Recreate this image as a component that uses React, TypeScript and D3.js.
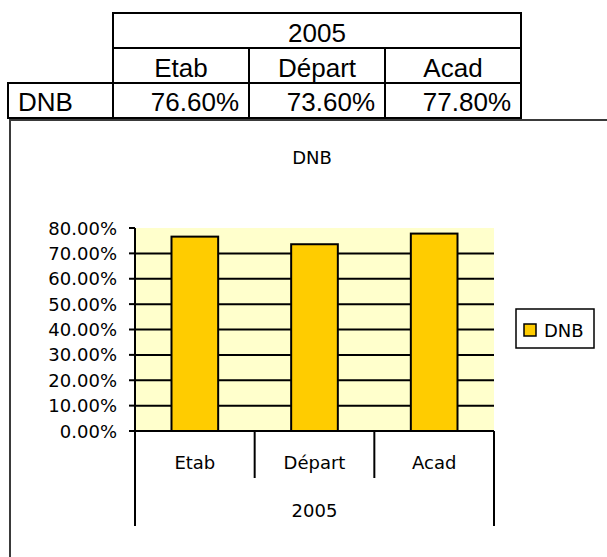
import React from "react";
import * as d3 from "d3";

// données
const categories = ["Etab", "Départ", "Acad"];
const groupLabel = "2005";
const seriesName = "DNB";
const values = [0.766, 0.736, 0.778];
const yTickValues = [0, 0.1, 0.2, 0.3, 0.4, 0.5, 0.6, 0.7, 0.8];

const W = 607;
const H = 557;
const chartFont = "'DejaVu Sans', Verdana, sans-serif";
const tableFont = "'Liberation Sans', Arial, sans-serif";

const App = () => {
    // tableau
    const tableCol = d3.scaleBand().domain(categories).range([113, 521]);
    const rowY = [13, 48, 83, 118];
    const tableLeft = 8;

    // graphique
    const plot = { left: 135, right: 494, top: 228, bottom: 431 };
    const x0 = d3.scaleBand().domain(categories).range([plot.left, plot.right]);
    const xBar = d3
        .scaleBand()
        .domain(categories)
        .range([plot.left, plot.right])
        .paddingInner(0.61)
        .paddingOuter(0.305);
    const y = d3.scaleLinear().domain([0, 0.8]).range([plot.bottom, plot.top]);
    const fmt = d3.format(".2%");
    const pctTable = d3.format(".2%");

    return (
        <div style={{ position: "fixed", left: 0, top: 0 }}>
            <svg width={W} height={H} style={{ display: "block" }}>
                <rect x={0} y={0} width={W} height={H} fill="#fff" />

                {/* tableau */}
                <g fontFamily={tableFont} fontSize={26} fill="#000">
                    {/* ligne 2005 */}
                    <rect x={113} y={rowY[0]} width={521 - 113} height={rowY[1] - rowY[0]} fill="none" stroke="#000" strokeWidth={2} />
                    <text x={(113 + 521) / 2} y={rowY[0] + 29} textAnchor="middle">{groupLabel}</text>
                    {/* ligne catégories */}
                    {categories.map((c) => (
                        <g key={c}>
                            <rect x={tableCol(c)} y={rowY[1]} width={tableCol.bandwidth()} height={rowY[2] - rowY[1]} fill="none" stroke="#000" strokeWidth={2} />
                            <text x={tableCol(c)! + tableCol.bandwidth() / 2} y={rowY[1] + 29} textAnchor="middle">{c}</text>
                        </g>
                    ))}
                    {/* ligne DNB */}
                    <rect x={tableLeft} y={rowY[2]} width={113 - tableLeft} height={rowY[3] - rowY[2]} fill="none" stroke="#000" strokeWidth={2} />
                    <text x={tableLeft + 10} y={rowY[2] + 28}>{seriesName}</text>
                    {categories.map((c, i) => (
                        <g key={c}>
                            <rect x={tableCol(c)} y={rowY[2]} width={tableCol.bandwidth()} height={rowY[3] - rowY[2]} fill="none" stroke="#000" strokeWidth={2} />
                            <text x={tableCol(c)! + tableCol.bandwidth() - 10} y={rowY[2] + 28} textAnchor="end">{pctTable(values[i])}</text>
                        </g>
                    ))}
                </g>

                {/* cadre du graphique */}
                <line x1={9} x2={W} y1={120} y2={120} stroke="#3a3a3a" strokeWidth={2} />
                <line x1={10} x2={10} y1={120} y2={H} stroke="#3a3a3a" strokeWidth={2} />

                <g fontFamily={chartFont} fontSize={18} fill="#000">
                    {/* titre */}
                    <text x={312} y={157} textAnchor="middle" dominantBaseline="central">{seriesName}</text>

                    {/* zone de traçage */}
                    <rect x={plot.left} y={plot.top} width={plot.right - plot.left} height={plot.bottom - plot.top} fill="#FFFFCC" />

                    {/* grille */}
                    {yTickValues.filter((t) => t > 0 && t < 0.8).map((t) => (
                        <line key={t} x1={plot.left} x2={plot.right} y1={y(t)} y2={y(t)} stroke="#000" strokeWidth={2} />
                    ))}

                    {/* barres */}
                    {categories.map((c, i) => (
                        <rect
                            key={c}
                            x={xBar(c)}
                            y={y(values[i])}
                            width={xBar.bandwidth()}
                            height={y(0) - y(values[i])}
                            fill="#FFCC00"
                            stroke="#000"
                            strokeWidth={2}
                        />
                    ))}

                    {/* axe Y */}
                    <line x1={plot.left} x2={plot.left} y1={plot.top} y2={plot.bottom} stroke="#000" strokeWidth={2} />
                    {yTickValues.map((t) => (
                        <g key={t}>
                            <line x1={plot.left - 6} x2={plot.left} y1={y(t)} y2={y(t)} stroke="#000" strokeWidth={2} />
                            <text x={117} y={y(t)} textAnchor="end" dominantBaseline="central">{fmt(t)}</text>
                        </g>
                    ))}

                    {/* axe X */}
                    <line x1={plot.left - 6} x2={plot.right} y1={plot.bottom} y2={plot.bottom} stroke="#000" strokeWidth={2} />
                    {categories.map((c, i) => (
                        <g key={c}>
                            {i > 0 && (
                                <line x1={x0(c)} x2={x0(c)} y1={plot.bottom} y2={478} stroke="#000" strokeWidth={2} />
                            )}
                            <text x={x0(c)! + x0.bandwidth() / 2} y={462} textAnchor="middle" dominantBaseline="central">{c}</text>
                        </g>
                    ))}
                    <line x1={plot.left} x2={plot.left} y1={plot.bottom} y2={526} stroke="#000" strokeWidth={2} />
                    <line x1={plot.right} x2={plot.right} y1={plot.bottom} y2={526} stroke="#000" strokeWidth={2} />
                    <text x={(plot.left + plot.right) / 2} y={510} textAnchor="middle" dominantBaseline="central">{groupLabel}</text>

                    {/* légende */}
                    <rect x={516} y={309} width={78} height={39} fill="#fff" stroke="#000" strokeWidth={1.5} />
                    <rect x={524} y={324} width={12} height={12} fill="#FFCC00" stroke="#000" strokeWidth={1.5} />
                    <text x={544} y={330} dominantBaseline="central">{seriesName}</text>
                </g>
            </svg>
        </div>
    );
};

export default App;
